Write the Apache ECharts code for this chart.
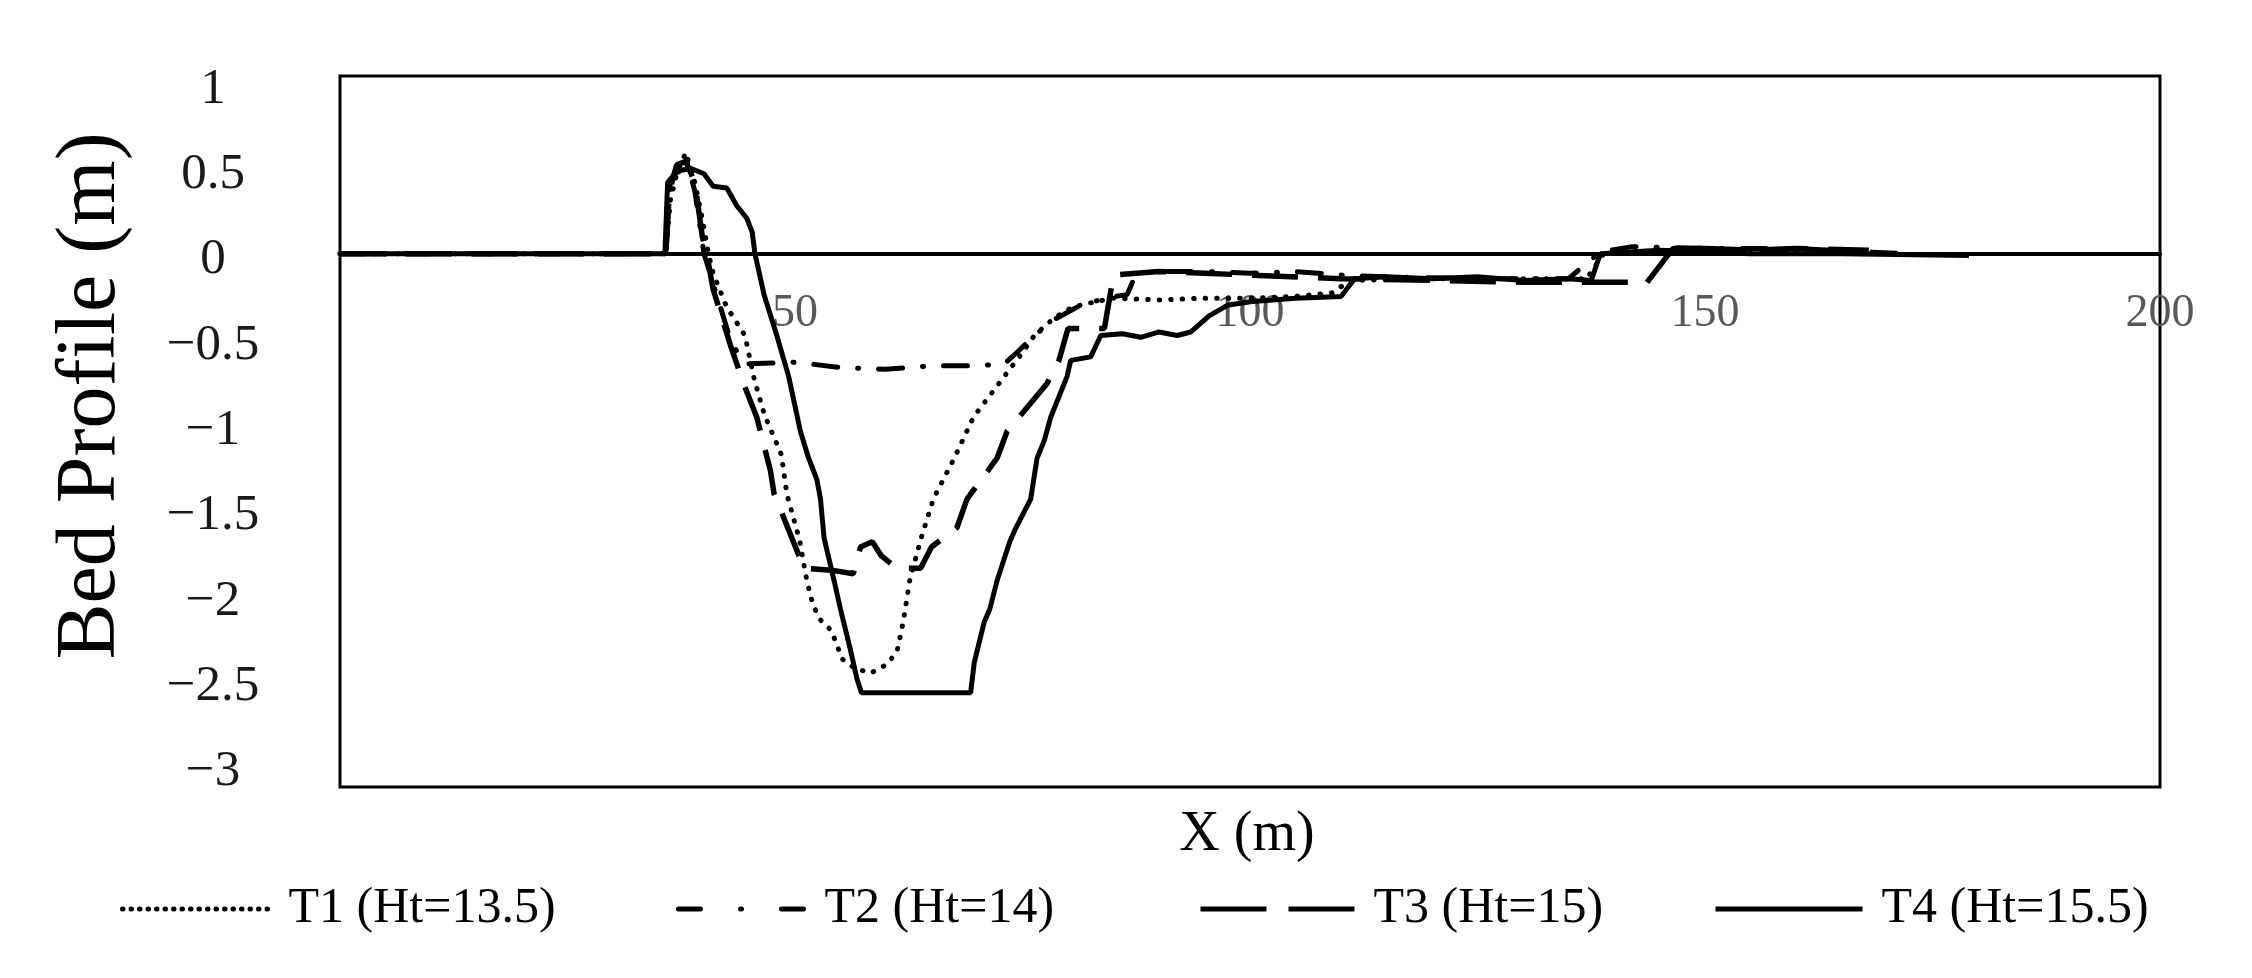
<!DOCTYPE html>
<html>
<head>
<meta charset="utf-8">
<script src="https://cdn.jsdelivr.net/npm/echarts@6/dist/echarts.min.js"></script>
<style>
html,body{margin:0;padding:0;background:#fff;}
#chart{width:2252px;height:978px;}
</style>
</head>
<body>
<div id="chart"></div>
<script>
// ---- data (x in m, bed level in m) ----
const seriesNames = ['T1 (Ht=13.5)', 'T2 (Ht=14)', 'T3 (Ht=15)', 'T4 (Ht=15.5)'];

const t1 = [[0,0],[35.8,0],[36.3,0.3],[37,0.45],[38,0.57],[39,0.4],[39.8,0.2],[40.5,0],[41,-0.11],[42.5,-0.3],[44.5,-0.46],[45.5,-0.7],[46.6,-0.9],[48.5,-1.13],[49.1,-1.35],[50.5,-1.61],[51.3,-1.84],[52,-1.98],[52.8,-2.06],[54,-2.12],[55.2,-2.28],[56.5,-2.33],[58.3,-2.36],[60.1,-2.31],[61.2,-2.24],[61.9,-2.07],[62.6,-1.84],[63.8,-1.61],[65.2,-1.38],[67.5,-1.15],[69.6,-0.92],[73,-0.69],[74.8,-0.57],[76.3,-0.46],[78.5,-0.36],[80.5,-0.3],[83,-0.27],[85,-0.25],[90,-0.26],[95,-0.25],[100,-0.25],[105,-0.24],[109,-0.22],[111,-0.15],[120,-0.14],[130,-0.14],[137,-0.14],[139,0.01],[150,0.02],[160,0.02],[167,0.01]];

const t2 = [[0,0],[35.8,0],[36.3,0.4],[37.2,0.5],[38,0.55],[39,0.35],[40,0],[41.5,-0.25],[43,-0.5],[44.5,-0.62],[50,-0.61],[55,-0.64],[60,-0.65],[65,-0.63],[70,-0.63],[73,-0.62],[74.5,-0.55],[76.3,-0.46],[78.5,-0.37],[81,-0.3],[84,-0.25],[86.5,-0.23],[87.5,-0.11],[90,-0.1],[95,-0.1],[100,-0.11],[105,-0.1],[110,-0.12],[115,-0.13],[125,-0.14],[135,-0.14],[138.5,0.01],[142,0.04],[150,0.03],[160,0.03],[172,0.0]];

const t3 = [[0,0],[35.8,0],[36.2,0.35],[37,0.5],[38,0.52],[39,0.4],[39.8,0.1],[40.3,0],[41,-0.2],[43,-0.53],[44.5,-0.75],[45.8,-0.92],[47.3,-1.22],[47.7,-1.35],[49.9,-1.63],[51,-1.77],[54,-1.78],[56.4,-1.8],[57.2,-1.65],[58.5,-1.62],[59.5,-1.7],[61.2,-1.77],[63.8,-1.77],[65,-1.65],[67.8,-1.54],[68.9,-1.38],[72.2,-1.15],[73.3,-1.0],[77.7,-0.73],[79,-0.6],[80,-0.42],[84,-0.42],[85,-0.12],[90,-0.1],[95,-0.11],[100,-0.12],[110,-0.14],[120,-0.15],[130,-0.16],[141.6,-0.16],[143.5,-0.17],[146.5,0.03],[150,0.03],[155,0.02],[160,0.03],[168,0.02]];

const t4 = [[0,0],[35.7,0],[36.0,0.40],[36.8,0.45],[37.5,0.47],[38.5,0.48],[40,0.45],[41,0.38],[42.5,0.37],[43.6,0.27],[44.7,0.2],[45.3,0.12],[45.6,0],[46.6,-0.23],[48,-0.46],[49.3,-0.69],[50.6,-1.0],[51.5,-1.15],[52.4,-1.27],[52.8,-1.38],[53.2,-1.6],[54.3,-1.84],[55,-2.0],[56.1,-2.23],[56.8,-2.39],[57.3,-2.47],[69.3,-2.47],[69.7,-2.3],[70.8,-2.07],[71.4,-2.0],[72.2,-1.84],[73.6,-1.62],[74.2,-1.55],[75.9,-1.38],[76.6,-1.15],[77.4,-1.05],[78.1,-0.92],[79.9,-0.69],[80.3,-0.6],[82.5,-0.58],[83.6,-0.46],[86,-0.45],[88,-0.47],[90,-0.44],[92,-0.46],[93.5,-0.44],[95.5,-0.35],[97.5,-0.29],[100,-0.27],[105,-0.25],[110,-0.24],[111.5,-0.14],[115,-0.13],[120,-0.14],[125,-0.13],[130,-0.15],[135,-0.14],[137.5,-0.15],[138.5,0.0],[145,0.02],[155,0.0],[165,0.0],[179,-0.01]];

const xTicks = [0, 50, 100, 150, 200];
const yTicks = [-3, -2.5, -2, -1.5, -1, -0.5, 0, 0.5, 1];

// ---- chart ----
const FONT = "'Liberation Serif','Times New Roman',serif";
const chart = echarts.init(document.getElementById('chart'), null, {renderer: 'canvas'});

const GRID = {left: 340, right: 92, top: 76, bottom: 191};
const Y_MIN = -3, Y_MAX = 1;
const plotH = 978 - GRID.top - GRID.bottom;
const zeroOffset = -plotH * (0 - Y_MIN) / (Y_MAX - Y_MIN); // lift the x axis up to y = 0

const dashStyles = [
  {type: [0.5, 11], width: 5, cap: 'round'},
  {type: [24, 20, 1, 20], width: 5, cap: 'round'},
  {type: [46, 20], width: 5.5, cap: 'butt'},
  {type: 'solid', width: 5, cap: 'butt'}
];
const legendDash = [[0.5, 8], [22, 40, 1, 40], [66, 22], 'solid'];
const allData = [t1, t2, t3, t4];

const legendPos = [
  {left: 120, w: 147},
  {left: 676, w: 127},
  {left: 1198, w: 154},
  {left: 1713, w: 147}
];

const option = {
  backgroundColor: '#fff',
  animation: false,
  grid: Object.assign({show: true, borderColor: '#000', borderWidth: 3, backgroundColor: 'transparent'}, GRID),
  xAxis: {
    type: 'value', min: xTicks[0], max: xTicks[xTicks.length - 1], interval: 50,
    position: 'bottom', offset: zeroOffset,
    axisLine: {show: true, onZero: false, lineStyle: {color: '#000', width: 4}},
    axisTick: {show: false},
    splitLine: {show: false},
    axisLabel: {
      margin: 37, fontFamily: FONT, fontSize: 46, color: '#595959',
      formatter: v => (v === 0 ? '' : String(v))
    }
  },
  yAxis: [
    {
      type: 'value', min: Y_MIN, max: Y_MAX, interval: 0.5, position: 'left',
      axisLine: {show: false}, axisTick: {show: false}, splitLine: {show: false},
      axisLabel: {show: false}
    },
    {
      // label-only axis placed to reproduce the reference's tick-label spacing
      type: 'value', min: -3.089, max: 1.079, position: 'left',
      axisLine: {show: false}, axisTick: {show: false}, splitLine: {show: false},
      axisLabel: {
        customValues: yTicks, margin: 127, align: 'center',
        fontFamily: FONT, fontSize: 51, color: '#1a1a1a',
        formatter: v => String(v).replace('-', '\u2212')
      }
    }
  ],
  legend: seriesNames.map((n, i) => ({
    data: [n], left: legendPos[i].left, top: 884,
    itemWidth: legendPos[i].w, itemHeight: 14, padding: 0,
    itemStyle: {opacity: 0},
    lineStyle: {width: 5, type: legendDash[i], cap: i === 0 || i === 1 ? 'round' : 'butt', color: '#000'},
    textStyle: {fontFamily: FONT, fontSize: 50, color: '#000', padding: [0, 0, 0, 14]},
    selectedMode: false
  })),
  graphic: [
    {type: 'text', x: 1247, y: 835,
     style: {text: 'X (m)', font: "56px " + FONT, fill: '#000', textAlign: 'center', textVerticalAlign: 'middle'}},
    {type: 'text', x: 92, y: 396, rotation: Math.PI / 2,
     style: {text: 'Bed Profile (m)', font: "84px " + FONT, fill: '#000', textAlign: 'center', textVerticalAlign: 'middle'}}
  ],
  series: seriesNames.map((n, i) => ({
    name: n, type: 'line', data: allData[i], yAxisIndex: 0,
    symbol: 'none', smooth: false,
    lineStyle: Object.assign({color: '#000'}, dashStyles[i]),
    itemStyle: {color: '#000'},
    z: 3 + i
  }))
};
chart.setOption(option);
</script>
</body>
</html>
